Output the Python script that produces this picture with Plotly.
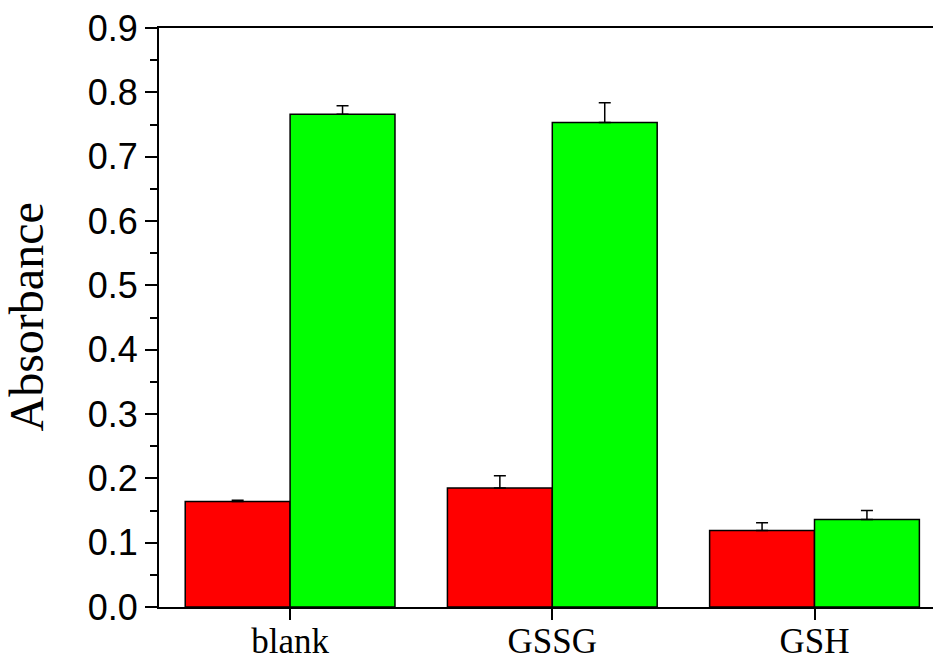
import plotly.graph_objects as go

categories = ["blank", "GSSG", "GSH"]
red_values = [0.164, 0.185, 0.119]
red_errors = [0.002, 0.019, 0.012]
green_values = [0.766, 0.753, 0.136]
green_errors = [0.013, 0.031, 0.014]
y_ticks = [0.0, 0.1, 0.2, 0.3, 0.4, 0.5, 0.6, 0.7, 0.8, 0.9]

W, H = 933, 659
L, T, B, R = 159, 28, 52, 0
plot_w = W - L - R
spacing = 262.2

fig = go.Figure()
fig.add_trace(go.Bar(
    x=categories, y=red_values, name="red",
    marker=dict(color="#ff0000", line=dict(color="black", width=1.5)),
    error_y=dict(type="data", array=red_errors, arrayminus=[0]*3, symmetric=False,
                 color="black", thickness=1.5, width=6),
))
fig.add_trace(go.Bar(
    x=categories, y=green_values, name="green",
    marker=dict(color="#00ff00", line=dict(color="black", width=1.5)),
    error_y=dict(type="data", array=green_errors, arrayminus=[0]*3, symmetric=False,
                 color="black", thickness=1.5, width=6),
))

fig.update_layout(
    width=W, height=H,
    margin=dict(l=L, r=R, t=T, b=B, pad=0, autoexpand=False),
    paper_bgcolor="white", plot_bgcolor="white",
    barmode="group", bargap=0.2, bargroupgap=0,
    showlegend=False,
    xaxis=dict(
        type="category", automargin=False,
        range=[-0.5, -0.5 + plot_w / spacing],
        showline=True, linecolor="black", linewidth=1.8, mirror=True,
        ticks="outside", ticklen=11, tickwidth=1.8, tickcolor="black",
        ticklabelstandoff=-9,
        tickfont=dict(family="Liberation Serif, Times New Roman, serif", size=35, color="black"),
        showgrid=False, zeroline=False,
    ),
    yaxis=dict(
        range=[0, 0.9], automargin=False,
        tickvals=y_ticks, ticktext=[f"{v:.1f}" for v in y_ticks],
        showline=True, linecolor="black", linewidth=1.8,
        ticks="outside", ticklen=12, tickwidth=1.8, tickcolor="black",
        tickfont=dict(family="Liberation Sans, Arial, sans-serif", size=36, color="black"),
        minor=dict(ticks="outside", ticklen=7, tickwidth=1.8, tickcolor="black", dtick=0.05, showgrid=False),
        showgrid=False, zeroline=False,
    ),
    annotations=[dict(
        text="Absorbance", textangle=-90,
        xref="paper", yref="paper",
        x=-133 / plot_w, y=0.5, xanchor="center", yanchor="middle",
        showarrow=False,
        font=dict(family="Liberation Serif, Times New Roman, serif", size=48, color="black"),
    )],
)

fig.write_html(
    "out.html",
    config={"displayModeBar": False},
    post_script="document.body.style.margin='0';document.body.style.overflow='hidden';",
)
